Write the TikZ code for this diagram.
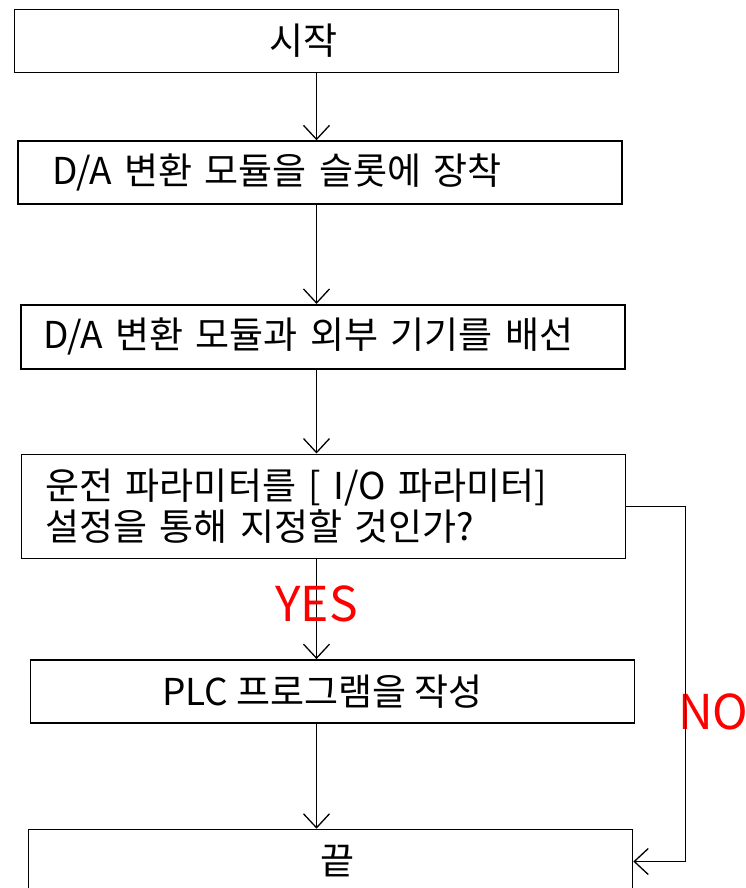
\documentclass[tikz,border=0pt]{standalone}
\usepackage{fontspec}
\setmainfont{Noto Sans CJK KR}
\usetikzlibrary{arrows.meta,positioning}

\begin{document}
\begin{tikzpicture}[x=1pt, y=-1pt, font=\fontsize{37}{41}\selectfont,
    box/.style={draw, line width=1.6pt, minimum width=604pt, minimum height=63pt, inner sep=0pt},
    arr/.style={line width=1.3pt, -{Straight Barb[length=14pt, width=26pt, line width=1.3pt]}},
    answer/.style={text=red, font=\fontsize{48}{48}\selectfont, inner sep=0pt}]

    \useasboundingbox (0,0) rectangle (745,888);

    % Start
    \node[box] (start) at (316.5,41) {\hspace*{-26pt}시작};

    % Mount module
    \node[box, below=67pt of start, xshift=3.5pt, text width=536pt, align=left] (mount) {D/A 변환 모듈을 슬롯에 장착};

    % Wiring
    \node[box, below=99pt of mount, xshift=3pt, minimum height=64pt, text width=560pt, align=left] (wire) {D/A 변환 모듈과 외부 기기를 배선};

    % Decision
    \node[box, below=84pt of wire, xshift=0.5pt, minimum height=104pt, text width=556pt, align=left] (ask) {운전 파라미터를 [ I/O 파라미터]\\설정을 통해 지정할 것인가?};

    % Program
    \node[box, below=100pt of ask, xshift=9pt] (plc) {\hspace*{-20pt}PLC 프로그램을 작성};

    % End
    \node[box, below=105pt of plc, xshift=-2pt, minimum height=64pt] (finish) {\hspace*{15pt}끝};

    \node[answer, anchor=west] (no) at (678,712) {NO};

    \draw[arr] (start.south) -- (start.south |- mount.north);
    \draw[arr] (start.south |- mount.south) -- (start.south |- wire.north);
    \draw[arr] (start.south |- wire.south) -- (start.south |- ask.north);
    \draw[arr] (start.south |- ask.south) -- node[answer, pos=0.45] {YES} (start.south |- plc.north);
    \draw[arr] (start.south |- plc.south) -- (start.south |- finish.north);
    \draw[arr] (ask.east) -- ++(59pt,0) |- (finish.east);

\end{tikzpicture}
\end{document}
